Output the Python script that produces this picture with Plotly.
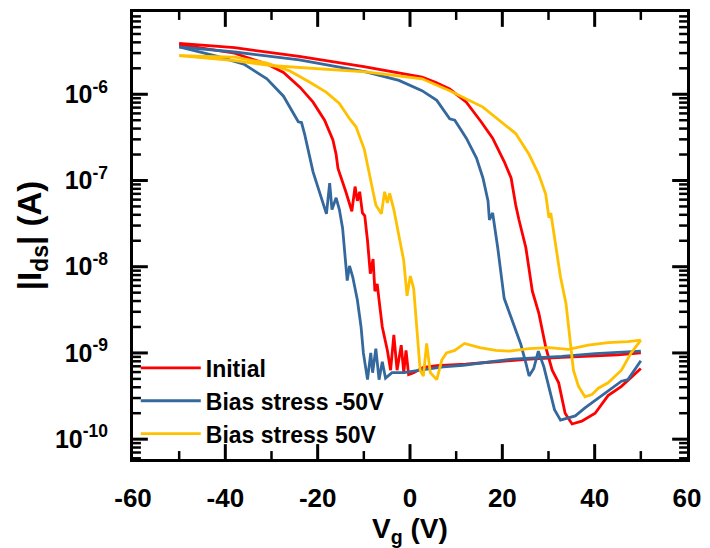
import math
import plotly.graph_objects as go

# Transfer curves |Ids| vs Vg, each a double sweep (forward branch + reverse branch)
series_names = ["Initial", "Bias stress -50V", "Bias stress 50V"]
series_colors = ["#FF0000", "#35689C", "#FFC000"]

# Initial
init_vg_fwd = [-50, -38, -31, -27.4, -23.8, -21, -18.5, -17.4, -16.7, -16, -15.6, -13.9, -12.6, -11.9,
               -11.4, -10.9, -10.3, -9.8, -9.2, -8.6, -8.0, -7.6, -7.1, -6.7, -6.0, -4.9, -4.2, -3.5,
               -2.8, -1.9, -1.35, -0.86, -0.3, 0.8, 2.9, 5.8, 12, 18.6, 26, 32.9, 40, 45, 50]
init_id_fwd = [3.8e-6, 2.99e-6, 2.24e-6, 1.79e-6, 1.20e-6, 8.1e-7, 5.0e-7, 3.6e-7, 2.95e-7, 2.0e-7,
               1.38e-7, 7.4e-8, 4.4e-8, 8.5e-8, 5.8e-8, 7.4e-8, 4.2e-8, 3.9e-8, 2.0e-8, 8.3e-9,
               1.23e-8, 5.2e-9, 6.3e-9, 4.1e-9, 2.0e-9, 1.07e-9, 6.3e-10, 1.62e-9, 6.3e-10, 1.23e-9,
               5.9e-10, 1.07e-9, 5.6e-10, 5.9e-10, 6.8e-10, 7.1e-10, 7.4e-10, 7.9e-10, 8.5e-10,
               8.9e-10, 9.3e-10, 9.5e-10, 1.0e-9]
init_vg_rev = [-50, -38, -24, -10, 2.6, 5.5, 8.6, 12.2, 15.4, 17.9, 20.4, 21.9, 22.9, 23.6, 25.1, 26.5,
               27.9, 29.4, 30.8, 32.2, 33.6, 35.1, 37.2, 40.1, 42.9, 45.8, 50]
init_id_rev = [3.9e-6, 3.47e-6, 2.75e-6, 2.09e-6, 1.58e-6, 1.38e-6, 1.15e-6, 8.1e-7, 4.8e-7, 3.1e-7,
               1.66e-7, 1.07e-7, 5.2e-8, 3.5e-8, 1.66e-8, 5.2e-9, 2.9e-9, 1.17e-9, 6.3e-10, 4.5e-10,
               2.0e-10, 1.5e-10, 1.62e-10, 2.0e-10, 3.2e-10, 4.1e-10, 6.6e-10]

# Bias stress -50V
neg_vg_fwd = [-50, -41.7, -36, -31, -27.4, -25.3, -24.2, -23.5, -22.8, -21, -19.6, -18.1, -17.4, -16.9,
              -16.0, -15.3, -14.6, -13.6, -13.1, -12.4, -11.4, -10.6, -10.1, -9.2, -8.5, -8.1, -7.4,
              -6.7, -6.0, -5.3, -3.9, -1.3, 2.2, 7.2, 11.5, 22.2, 32.9, 40.1, 50]
neg_id_fwd = [3.55e-6, 2.75e-6, 2.24e-6, 1.51e-6, 9.5e-7, 6.2e-7, 4.8e-7, 4.7e-7, 3.4e-7, 1.26e-7,
              7.4e-8, 4.1e-8, 9.3e-8, 4.6e-8, 6.3e-8, 4.6e-8, 2.8e-8, 6.9e-9, 1.02e-8, 7.6e-9, 4.1e-9,
              2.0e-9, 1.0e-9, 4.9e-10, 1.0e-9, 5.9e-10, 1.12e-9, 4.9e-10, 7.9e-10, 5.1e-10, 5.9e-10,
              5.9e-10, 6.3e-10, 6.9e-10, 7.2e-10, 8.5e-10, 9.1e-10, 9.8e-10, 1.05e-9]
neg_vg_rev = [-50, -38, -24, -9.6, -2.4, 2.6, 5.8, 8.6, 9.7, 12.2, 14.4, 15.8, 16.9, 17.2, 17.9, 19.0,
              20.4, 22.4, 24.0, 25.1, 25.8, 26.8, 27.8, 29.0, 30.1, 31.3, 32.6, 35.8, 37.9, 41.5,
              45.8, 47.2, 50]
neg_id_rev = [3.55e-6, 3.09e-6, 2.51e-6, 1.82e-6, 1.45e-6, 1.10e-6, 8.5e-7, 5.2e-7, 5.0e-7, 3.1e-7,
              1.82e-7, 1.07e-7, 5.8e-8, 3.5e-8, 4.2e-8, 1.66e-8, 4.3e-9, 2.2e-9, 1.26e-9, 7.6e-10,
              5.4e-10, 6.6e-10, 1.05e-9, 6.9e-10, 4.1e-10, 2.2e-10, 1.66e-10, 1.86e-10, 2.3e-10,
              3.2e-10, 4.7e-10, 4.9e-10, 8.1e-10]

# Bias stress 50V
pos_vg_fwd = [-50, -38, -31, -26, -21.7, -18.1, -15.3, -13.1, -11.7, -9.9, -8.9, -7.4, -6.2, -5.5,
              -4.9, -4.4, -3.5, -2.4, -1.35, -0.64, 0.07, 0.8, 1.5, 2.2, 2.9, 3.6, 4.4, 5.8, 6.9, 7.9,
              9.7, 11.8, 15.1, 18.6, 21.5, 25.8, 30.1, 34.3, 38.6, 42.9, 47.2, 50]
pos_id_fwd = [2.8e-6, 2.7e-6, 2.3e-6, 1.86e-6, 1.38e-6, 1.05e-6, 7.8e-7, 5.2e-7, 4.2e-7, 2.3e-7,
              1.26e-7, 5.2e-8, 4.1e-8, 7.4e-8, 5.5e-8, 7.1e-8, 4.6e-8, 2.4e-8, 1.17e-8, 4.6e-9,
              7.8e-9, 5.6e-9, 2.0e-9, 6.3e-10, 5.4e-10, 1.29e-9, 5.9e-10, 4.9e-10, 8.3e-10, 1.0e-9,
              1.07e-9, 1.29e-9, 1.15e-9, 1.07e-9, 1.05e-9, 1.12e-9, 1.15e-9, 1.10e-9, 1.23e-9,
              1.32e-9, 1.35e-9, 1.41e-9]
pos_vg_rev = [-50, -38, -29.6, -20.3, -9.6, 2.6, 8.6, 15.8, 19.7, 22.9, 25.8, 27.9, 29.4, 30.1, 30.5,
              31.5, 32.6, 33.8, 34.7, 35.4, 36.5, 37.9, 39.4, 40.8, 42.9, 45.8, 47.9, 50]
pos_id_rev = [2.8e-6, 2.45e-6, 2.14e-6, 2.0e-6, 1.82e-6, 1.51e-6, 1.10e-6, 7.1e-7, 4.8e-7, 3.5e-7,
              2.0e-7, 1.17e-7, 6.9e-8, 3.7e-8, 4.2e-8, 1.82e-8, 7.6e-9, 3.7e-9, 1.29e-9, 6.3e-10,
              4.1e-10, 3.1e-10, 3.3e-10, 3.9e-10, 4.5e-10, 6.3e-10, 1.0e-9, 1.41e-9]

# Axis ticks
X_RANGE = [-60, 60]
LOG_Y_RANGE = [-10.23, -5.046]
x_tick_vals = [-60, -40, -20, 0, 20, 40, 60]
x_tick_text = ["-60", "-40", "-20", "0", "20", "40", "60"]
x_minor_vals = [-50, -30, -10, 10, 30, 50]
y_tick_vals = [1e-10, 1e-9, 1e-8, 1e-7, 1e-6]
y_tick_text = ["10<sup>-10</sup>", "10<sup>-9</sup>", "10<sup>-8</sup>", "10<sup>-7</sup>", "10<sup>-6</sup>"]
y_minor_vals = [m * 10.0 ** e for e in range(-11, -5) for m in range(2, 10)]

sweeps = [
    (init_vg_fwd, init_id_fwd, init_vg_rev, init_id_rev),
    (neg_vg_fwd, neg_id_fwd, neg_vg_rev, neg_id_rev),
    (pos_vg_fwd, pos_id_fwd, pos_vg_rev, pos_id_rev),
]

FONT = "Liberation Sans, Arial, sans-serif"
W, H = 710, 548
MARGIN = dict(l=133, r=17, t=9, b=88)
PLOT_W = W - MARGIN["l"] - MARGIN["r"]
PLOT_H = H - MARGIN["t"] - MARGIN["b"]
MAJOR_LEN, MINOR_LEN = 15, 8

fig = go.Figure()
for name, color, (vf, i_f, vr, i_r) in zip(series_names, series_colors, sweeps):
    # forward and reverse branches in one trace, separated by a gap
    fig.add_trace(go.Scatter(
        x=vf + [None] + vr,
        y=i_f + [None] + i_r,
        mode="lines",
        name=name,
        line=dict(color=color, width=2.8),
        connectgaps=False,
    ))


# Inward tick marks on all four sides of the frame, drawn as short segments
def x_tick_segments(vals, length):
    span = LOG_Y_RANGE[1] - LOG_Y_RANGE[0]
    d = length / PLOT_H * span
    bottom = (10 ** LOG_Y_RANGE[0], 10 ** (LOG_Y_RANGE[0] + d))
    top = (10 ** LOG_Y_RANGE[1], 10 ** (LOG_Y_RANGE[1] - d))
    xs, ys = [], []
    for v in vals:
        if not (X_RANGE[0] < v < X_RANGE[1]):
            continue
        for a, b in (bottom, top):
            xs += [v, v, None]
            ys += [a, b, None]
    return xs, ys


def y_tick_segments(vals, length):
    d = length / PLOT_W * (X_RANGE[1] - X_RANGE[0])
    xs, ys = [], []
    for v in vals:
        if not (LOG_Y_RANGE[0] < math.log10(v) < LOG_Y_RANGE[1]):
            continue
        for a, b in ((X_RANGE[0], X_RANGE[0] + d), (X_RANGE[1], X_RANGE[1] - d)):
            xs += [a, b, None]
            ys += [v, v, None]
    return xs, ys


for (xs, ys), width in (
    (x_tick_segments(x_tick_vals, MAJOR_LEN), 3),
    (x_tick_segments(x_minor_vals, MINOR_LEN), 2.5),
    (y_tick_segments(y_tick_vals, MAJOR_LEN), 3),
    (y_tick_segments(y_minor_vals, MINOR_LEN), 2.5),
):
    fig.add_trace(go.Scatter(
        x=xs, y=ys, mode="lines", line=dict(color="black", width=width),
        showlegend=False, hoverinfo="skip", connectgaps=False, cliponaxis=False,
    ))

fig.update_xaxes(
    showline=True, linecolor="black", linewidth=3, mirror=True,
    ticks="", showgrid=False, zeroline=False,
    range=X_RANGE,
    tickmode="array", tickvals=x_tick_vals, ticktext=x_tick_text,
    ticklabelstandoff=14,
    tickfont=dict(family=FONT, size=26, color="black", weight="bold"),
    title=dict(text="V<sub>g</sub> (V)", font=dict(family=FONT, size=28, color="black", weight="bold"),
               standoff=6),
)
fig.update_yaxes(
    showline=True, linecolor="black", linewidth=3, mirror=True,
    ticks="", showgrid=False, zeroline=False,
    type="log",
    range=LOG_Y_RANGE,
    tickmode="array", tickvals=y_tick_vals, ticktext=y_tick_text,
    ticklabelstandoff=17,
    tickfont=dict(family=FONT, size=25, color="black", weight="bold"),
    title=dict(text="|I<sub>ds</sub>| (A)", font=dict(family=FONT, size=33, color="black", weight="bold"),
               standoff=4),
)

fig.update_layout(
    width=W, height=H,
    margin=MARGIN,
    paper_bgcolor="white", plot_bgcolor="white",
    showlegend=True,
    legend=dict(
        x=0.005, y=0.008, xanchor="left", yanchor="bottom",
        bgcolor="rgba(0,0,0,0)",
        font=dict(family=FONT, size=23, color="black", weight="bold"),
        itemwidth=60, tracegroupgap=0,
    ),
)

fig.write_html("out.html")
